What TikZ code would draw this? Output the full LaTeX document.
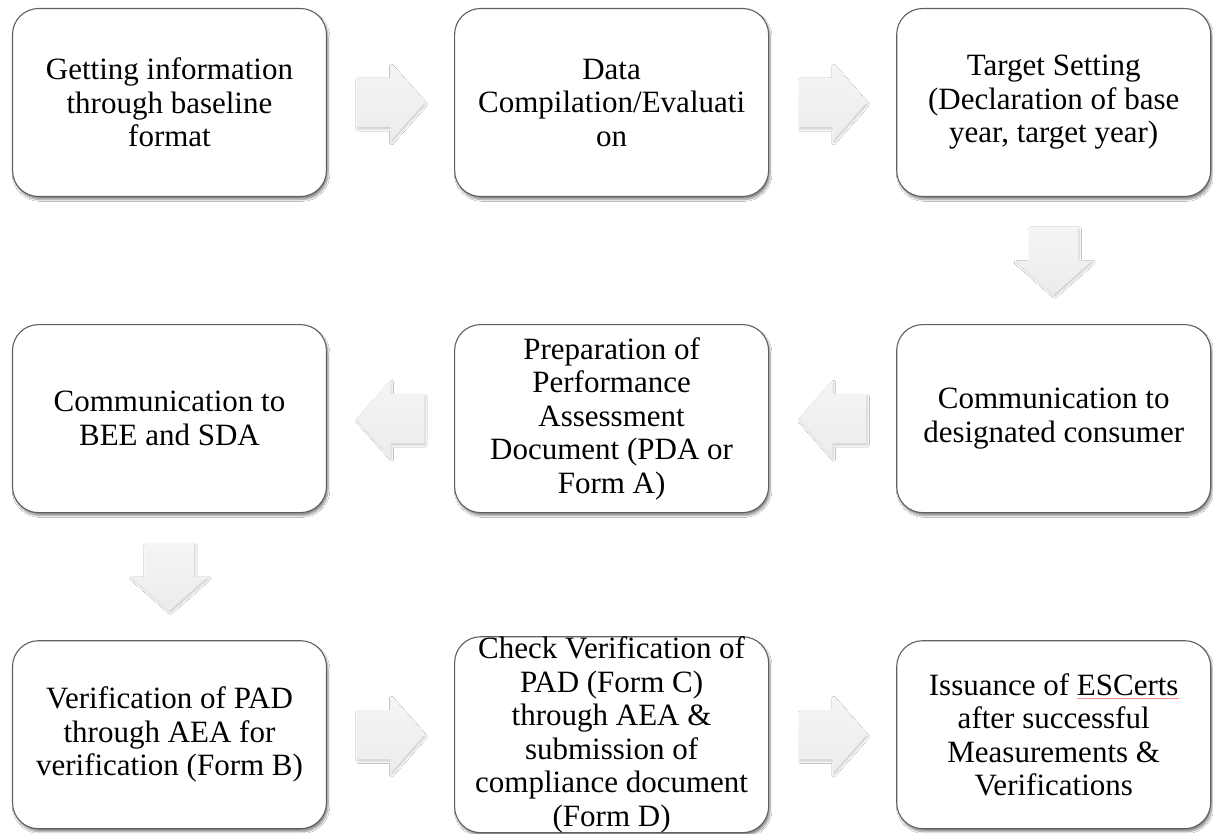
\documentclass[tikz,border=0pt]{standalone}
\usepackage{fontspec}
\setmainfont{Liberation Serif}
\usetikzlibrary{calc, positioning}
\usetikzlibrary{shapes.arrows}
\usetikzlibrary{shadows.blur}

\newsavebox{\spellbox}
\newcommand{\spellmark}[1]{\sbox{\spellbox}{#1}\rlap{\color{red!45}\rule[-3.5pt]{\wd\spellbox}{0.7pt}}#1}

\begin{document}
\begin{tikzpicture}[x=1pt, y=-1pt, node distance=127pt,
  stage/.style={draw=gray!75!black, line width=1.1pt, rounded corners=26pt, fill=white,
    minimum width=314pt, minimum height=188pt, inner sep=0pt, align=center,
    font=\fontsize{31}{33.5}\selectfont,
    blur shadow={shadow xshift=1.5pt, shadow yshift=-3pt, shadow blur steps=8, shadow opacity=45}},
  flow/.style={single arrow, draw=none, top color=gray!8, bottom color=gray!15, anchor=tail,
    minimum height=68pt, inner xsep=0pt, inner ysep=24.5pt, single arrow head extend=14pt,
    single arrow tip angle=97,
    blur shadow={shadow xshift=1pt, shadow yshift=-2pt, shadow blur steps=5, shadow opacity=20}}]
\def\half{34}
\useasboundingbox (0,0) rectangle (1213,833);
\fill[white] (0,0) rectangle (1213,833);
% first row, left to right
\node[stage] (getinfo) at (169.5,102.5) {Getting information\\through baseline\\format};
\node[stage, right=of getinfo] (compile) {Data\\Compilation/Evaluati\\on};
\node[stage, right=of compile] (target) {Target Setting\\(Declaration of base\\year, target year)};
% second row, right to left
\node[stage, below=of target] (tellDC) {Communication to\\designated consumer};
\node[stage, left=of tellDC] (prepPAD) {Preparation of\\Performance\\Assessment\\Document (PDA or\\Form A)};
\node[stage, left=of prepPAD] (tellBEE) {Communication to\\BEE and SDA};
% third row, left to right
\node[stage, below=of tellBEE] (verify) {Verification of PAD\\through AEA for\\verification (Form B)};
\node[stage, right=of verify] (check) {Check Verification of\\PAD (Form C)\\through AEA \&\\submission of\\compliance document\\(Form D)};
\node[stage, right=of check] (issue) {Issuance of \spellmark{ESCerts}\\after successful\\Measurements \&\\Verifications};
% block arrows between the stages, tail set back by half their length
\node[flow] (a1) at ($(getinfo.east)!0.5!(compile.west) + (-\half,0)$) {};
\node[flow] (a2) at ($(compile.east)!0.5!(target.west) + (-\half,0)$) {};
\node[flow, rotate=-90] (a3) at ($(target.south)!0.5!(tellDC.north) + (0,-\half)$) {};
\node[flow, rotate=180] (a4) at ($(tellDC.west)!0.5!(prepPAD.east) + (\half,0)$) {};
\node[flow, rotate=180] (a5) at ($(prepPAD.west)!0.5!(tellBEE.east) + (\half,0)$) {};
\node[flow, rotate=-90] (a6) at ($(tellBEE.south)!0.5!(verify.north) + (0,-\half)$) {};
\node[flow] (a7) at ($(verify.east)!0.5!(check.west) + (-\half,0)$) {};
\node[flow] (a8) at ($(check.east)!0.5!(issue.west) + (-\half,0)$) {};
\end{tikzpicture}
\end{document}
